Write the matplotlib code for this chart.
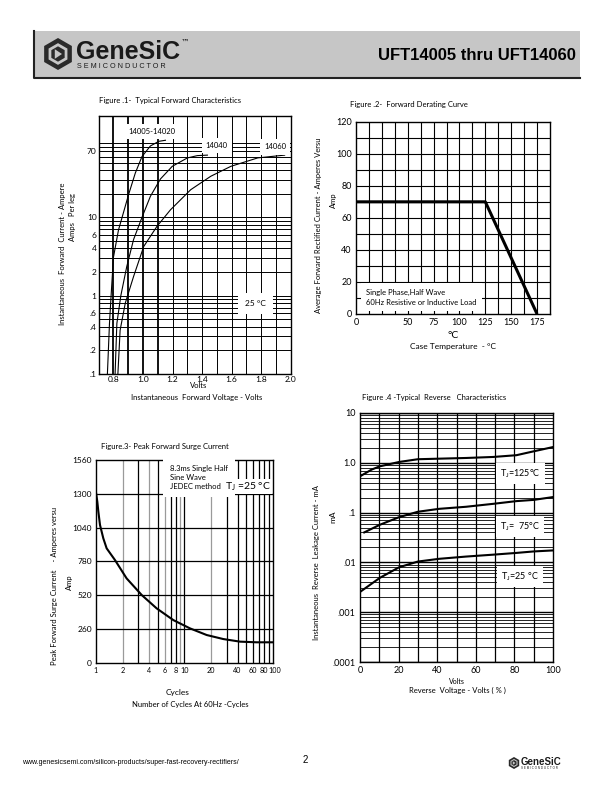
import numpy as np
import matplotlib
matplotlib.use("Agg")
import matplotlib.pyplot as plt
from matplotlib.patches import Rectangle, RegularPolygon, Polygon
from matplotlib.transforms import ScaledTranslation

plt.rcParams['font.family'] = ['Lato', 'DejaVu Sans']
plt.rcParams['mathtext.default'] = 'regular'

W, H = 612, 792

# --- Figure 1: typical forward characteristics (V, A)
f1_v_05_20 = [0.759, 0.773, 0.784, 0.80, 0.834, 0.873, 0.902, 0.948, 0.993, 1.05, 1.107, 1.152]
f1_i_05_20 = [0.1, 0.44, 1.0, 3.1, 6.9, 12.5, 19.5, 37, 60, 82, 94, 97]
f1_v_40 = [0.811, 0.823, 0.85, 0.89, 0.936, 0.993, 1.05, 1.118, 1.198, 1.30, 1.368, 1.436]
f1_i_40 = [0.1, 0.44, 1.0, 2.35, 5.2, 10, 18.6, 31, 45, 57.6, 61.7, 62.6]
f1_v_60 = [0.83, 0.845, 0.88, 0.936, 1.005, 1.095, 1.186, 1.323, 1.459, 1.595, 1.777, 1.959]
f1_i_60 = [0.1, 0.36, 0.80, 1.75, 4.25, 7.7, 12.5, 22.6, 33.6, 45, 57.7, 62.6]
f1_xticks = [0.8, 1.0, 1.2, 1.4, 1.6, 1.8, 2.0]
f1_yticks = [0.1, 0.2, 0.4, 0.6, 1, 2, 4, 6, 10, 70]
f1_ylabels = ['.1', '.2', '.4', '.6', '1', '2', '4', '6', '10', '70']

# --- Figure 2: forward derating curve
f2_temp = [0, 125, 175]
f2_amp = [70, 70, 0]
f2_xticks = [0, 50, 75, 100, 125, 150, 175]
f2_yticks = [0, 20, 40, 60, 80, 100, 120]

# --- Figure 3: peak forward surge current
f3_cycles = [1.0, 1.035, 1.063, 1.11, 1.21, 1.32, 1.64, 2.22, 3.29, 4.86, 7.5, 11.6, 17.9, 27.6, 42.7, 65.7, 100]
f3_amp = [1310, 1239, 1163, 1060, 957, 880, 790, 649, 521, 418, 328, 264, 213, 182, 162, 157, 157]
f3_xticks = [1, 2, 4, 6, 8, 10, 20, 40, 60, 80, 100]
f3_yticks = [0, 260, 520, 780, 1040, 1300, 1560]

# --- Figure 4: typical reverse characteristics (% Vr, mA)
f4_v_125 = [0, 6, 10.3, 20.3, 30, 41, 55, 69, 81, 90, 100]
f4_i_125 = [0.535, 0.73, 0.85, 1.04, 1.18, 1.21, 1.25, 1.31, 1.42, 1.7, 2.07]
f4_v_75 = [2.2, 10.3, 20.3, 30, 41, 55, 69, 81, 90, 100]
f4_i_75 = [0.040, 0.057, 0.081, 0.104, 0.119, 0.131, 0.15, 0.17, 0.18, 0.205]
f4_v_25 = [0, 10.3, 20.3, 30, 41, 55, 69, 81, 90, 100]
f4_i_25 = [0.00255, 0.0049, 0.0080, 0.0104, 0.0118, 0.0131, 0.0143, 0.0155, 0.0166, 0.0174]
f4_yticks = [1e-4, 1e-3, 1e-2, 1e-1, 1, 10]
f4_ylabels = ['.0001', '.001', '.01', '.1', '1.0', '10']


def rect(x0, y0, x1, y1):
    return [x0 / W, 1 - y1 / H, (x1 - x0) / W, (y1 - y0) / H]


fig = plt.figure(figsize=(6.12, 7.92), dpi=100)


def ftext(x, y, s, **kw):
    kw.setdefault('fontsize', 5.5)
    fig.text(x / W, 1 - y / H, s, **kw)


def style(ax, size=6, pad=3):
    ax.tick_params(which='both', length=0, labelsize=size, pad=pad)
    for sp in ax.spines.values():
        sp.set_linewidth(1.0)
        sp.set_color('k')
    ax.set_axisbelow(True)


def wbox(p):
    return dict(facecolor='white', edgecolor='none', pad=p)


# ---------------- Figure 1
ax1 = fig.add_axes(rect(98.7, 115.7, 290.7, 373.7))
ax1.set_yscale('log')
ax1.set_xlim(0.7, 2.0)
ax1.set_ylim(0.1, 200)
for v in np.arange(0.8, 1.95, 0.1):
    ax1.axvline(v, color='k', lw=1.3 if v < 1.15 else 0.7, zorder=0)
ax1.grid(True, which='both', axis='y', color='k', lw=0.7)
ax1.plot(f1_v_05_20, f1_i_05_20, color='k', lw=0.8)
ax1.plot(f1_v_40, f1_i_40, color='k', lw=0.8)
ax1.plot(f1_v_60, f1_i_60, color='k', lw=0.8)
ax1.set_xticks(f1_xticks)
ax1.set_xticklabels(['%.1f' % t for t in f1_xticks])
ax1.set_yticks(f1_yticks)
ax1.set_yticklabels(f1_ylabels)
ax1.yaxis.set_minor_formatter(plt.NullFormatter())
style(ax1, 6, 1.5)
ax1.text(1.057, 126, '14005-14020', fontsize=5.5, ha='center', va='center', bbox=wbox(3))
ax1.text(1.5, 83, '14040', fontsize=5.5, ha='center', va='center', bbox=wbox(3))
ax1.text(1.895, 80, '14060', fontsize=5.5, ha='center', va='center', bbox=wbox(3))
ax1.text(1.764, 0.8, '25 \u00b0C', fontsize=6, ha='center', va='center', bbox=wbox(5))
ftext(99, 101, 'Figure .1-  Typical Forward Characteristics', va='center')
ftext(199, 385, 'Volts', ha='center', va='center')
ftext(197, 398, 'Instantaneous  Forward Voltage - Volts', ha='center', va='center')
ftext(62, 254, 'Instantaneous  Forward  Current - Ampere', rotation=90, ha='center', va='center')
ftext(73, 217, 'Amps   Per leg', rotation=90, ha='center', va='center')

# ---------------- Figure 2
ax2 = fig.add_axes(rect(356, 121.7, 550, 314))
ax2.set_xlim(0, 187.5)
ax2.set_ylim(0, 120)
for t in np.arange(12.5, 187.5, 12.5):
    ax2.axvline(t, color='k', lw=0.8, zorder=0)
for a in range(10, 120, 10):
    ax2.axhline(a, color='k', lw=0.8, zorder=0)
ax2.plot(f2_temp, f2_amp, color='k', lw=2.2, solid_capstyle='butt')
ax2.set_xticks(f2_xticks)
ax2.set_yticks(f2_yticks)
style(ax2, 6.5)
ax2.text(10, 10.5, 'Single Phase,Half Wave\n60Hz Resistive or Inductive Load', fontsize=5.5,
         ha='left', va='center', linespacing=1.5, bbox=wbox(4))
ftext(350, 105, 'Figure .2-  Forward Derating Curve', va='center')
ftext(453, 335, '\u00b0C', ha='center', va='center', fontsize=7.5)
ftext(453, 347, 'Case Temperature  - \u00b0C', ha='center', va='center', fontsize=6)
ftext(318, 225, 'Average Forward Rectified Current - Amperes Versu', rotation=90, ha='center', va='center')
ftext(333, 200, 'Amp', rotation=90, ha='center', va='center')

# ---------------- Figure 3
ax3 = fig.add_axes(rect(96, 460, 272.7, 662.7))
ax3.set_xscale('log')
ax3.set_xlim(1, 100)
ax3.set_ylim(0, 1560)
gray_lines = [2, 4, 6, 9, 20]
for c in list(range(2, 10)) + list(range(10, 100, 10)):
    ax3.axvline(c, color='#9a9a9a' if c in gray_lines else 'k', lw=0.9, zorder=0)
for a in f3_yticks[1:-1]:
    ax3.axhline(a, color='k', lw=0.9, zorder=0)
ax3.plot(f3_cycles, f3_amp, color='k', lw=1.5)
ax3.set_xticks(f3_xticks)
ax3.set_xticklabels([str(t) for t in f3_xticks])
ax3.xaxis.set_minor_formatter(plt.NullFormatter())
ax3.set_yticks(f3_yticks)
style(ax3, 6)
ax3.tick_params(axis='x', labelsize=5.2)
# nudge the crowded "100" label a little to the right
last = ax3.get_xticklabels()[-1]
last.set_transform(last.get_transform() + ScaledTranslation(2.5 / 100, 0, fig.dpi_scale_trans))
ax3.text(6.9, 1425, '8.3ms Single Half\nSine Wave\nJEDEC method', fontsize=5.5, ha='left', va='center',
         linespacing=1.4, bbox=wbox(5))
ax3.text(29, 1355, 'T$_J$ =25 \u00b0C', fontsize=7.5, ha='left', va='center', bbox=wbox(1))
ftext(101, 446, 'Figure.3- Peak Forward Surge Current', va='center')
ftext(178, 693, 'Cycles', ha='center', va='center', fontsize=6)
ftext(190, 705, 'Number of Cycles At 60Hz -Cycles', ha='center', va='center')
ftext(55, 586, 'Peak Forward Surge Current    - Amperes versu', rotation=90, ha='center', va='center')
ftext(69, 582, 'Amp', rotation=90, ha='center', va='center')

# ---------------- Figure 4
ax4 = fig.add_axes(rect(360, 413, 553, 662))
ax4.set_yscale('log')
ax4.set_xlim(0, 100)
ax4.set_ylim(1e-4, 10)
for v in range(10, 100, 10):
    ax4.axvline(v, color='k', lw=0.9, zorder=0)
ax4.grid(True, which='minor', axis='y', color='k', lw=0.6)
ax4.grid(True, which='major', axis='y', color='k', lw=1.0)
ax4.plot(f4_v_125, f4_i_125, color='k', lw=1.5)
ax4.plot(f4_v_75, f4_i_75, color='k', lw=1.5)
ax4.plot(f4_v_25, f4_i_25, color='k', lw=1.5)
ax4.set_xticks([0, 20, 40, 60, 80, 100])
ax4.set_yticks(f4_yticks)
ax4.set_yticklabels(f4_ylabels)
ax4.yaxis.set_minor_formatter(plt.NullFormatter())
style(ax4, 6.5)
for yv, s in [(0.6, 'T$_J$=125\u00b0C'), (0.053, 'T$_J$=  75\u00b0C'), (0.00525, 'T$_J$=25 \u00b0C')]:
    ax4.text(83, yv, s, fontsize=6.5, ha='center', va='center', bbox=wbox(3))
ftext(362, 398, 'Figure .4 -Typical  Reverse   Characteristics', va='center')
ftext(457, 681, 'Volts', ha='center', va='center', fontsize=5)
ftext(457, 690, 'Reverse  Voltage - Volts ( % )', ha='center', va='center')
ftext(316, 563, 'Instantaneous  Reverse  Leakage Current - mA', rotation=90, ha='center', va='center')
ftext(333, 517, 'mA', rotation=90, ha='center', va='center', fontsize=6)

# ---------------- page header / footer drawn in pixel units
pg = fig.add_axes([0, 0, 1, 1], zorder=-1)
pg.set_xlim(0, W)
pg.set_ylim(H, 0)
pg.axis('off')
pg.add_patch(Rectangle((33, 31), 547, 47, facecolor='#c6c6c6', edgecolor='none'))
pg.plot([33.5, 33.5, 580], [31, 78, 78], color='#222', lw=1.5)


def logo(cx, cy, r, txt_size, sub_size):
    pg.add_patch(RegularPolygon((cx, cy), 6, radius=r, orientation=0, facecolor='#2a2a2a', edgecolor='none'))
    pg.add_patch(RegularPolygon((cx, cy), 6, radius=r * 0.68, orientation=0, facecolor='#c6c6c6', edgecolor='none'))
    pg.add_patch(RegularPolygon((cx, cy), 6, radius=r * 0.48, orientation=0, facecolor='#2a2a2a', edgecolor='none'))
    pg.add_patch(Polygon([(cx - r * 0.2, cy - r * 0.3), (cx - r * 0.2, cy + r * 0.3), (cx + r * 0.25, cy)],
                         closed=True, facecolor='#c6c6c6', edgecolor='none'))
    pg.text(cx + r * 1.15, cy - r * 0.15, 'GeneSiC', fontsize=txt_size, fontweight='bold',
            family='Liberation Sans', ha='left', va='center', color='#1a1a1a')
    pg.text(cx + r * 1.2, cy + r * 0.78, 'S E M I C O N D U C T O R', fontsize=sub_size,
            family='Liberation Sans', ha='left', va='center', color='#1a1a1a')


logo(58, 54, 16, 18, 5.2)
pg.text(181, 42, '\u2122', fontsize=6, family='DejaVu Sans', ha='left', va='center')
pg.text(576, 55, 'UFT14005 thru UFT14060', fontsize=12, fontweight='bold', family='Liberation Sans',
        ha='right', va='center')

pg.text(22, 763, 'www.genesicsemi.com/silicon-products/super-fast-recovery-rectifiers/', fontsize=5,
        family='Liberation Sans', ha='left', va='center')
pg.text(305, 760, '2', fontsize=7, family='Liberation Sans', ha='center', va='center')
logo(514, 763, 6, 7, 2.2)

fig.savefig('out.png', dpi=100)
